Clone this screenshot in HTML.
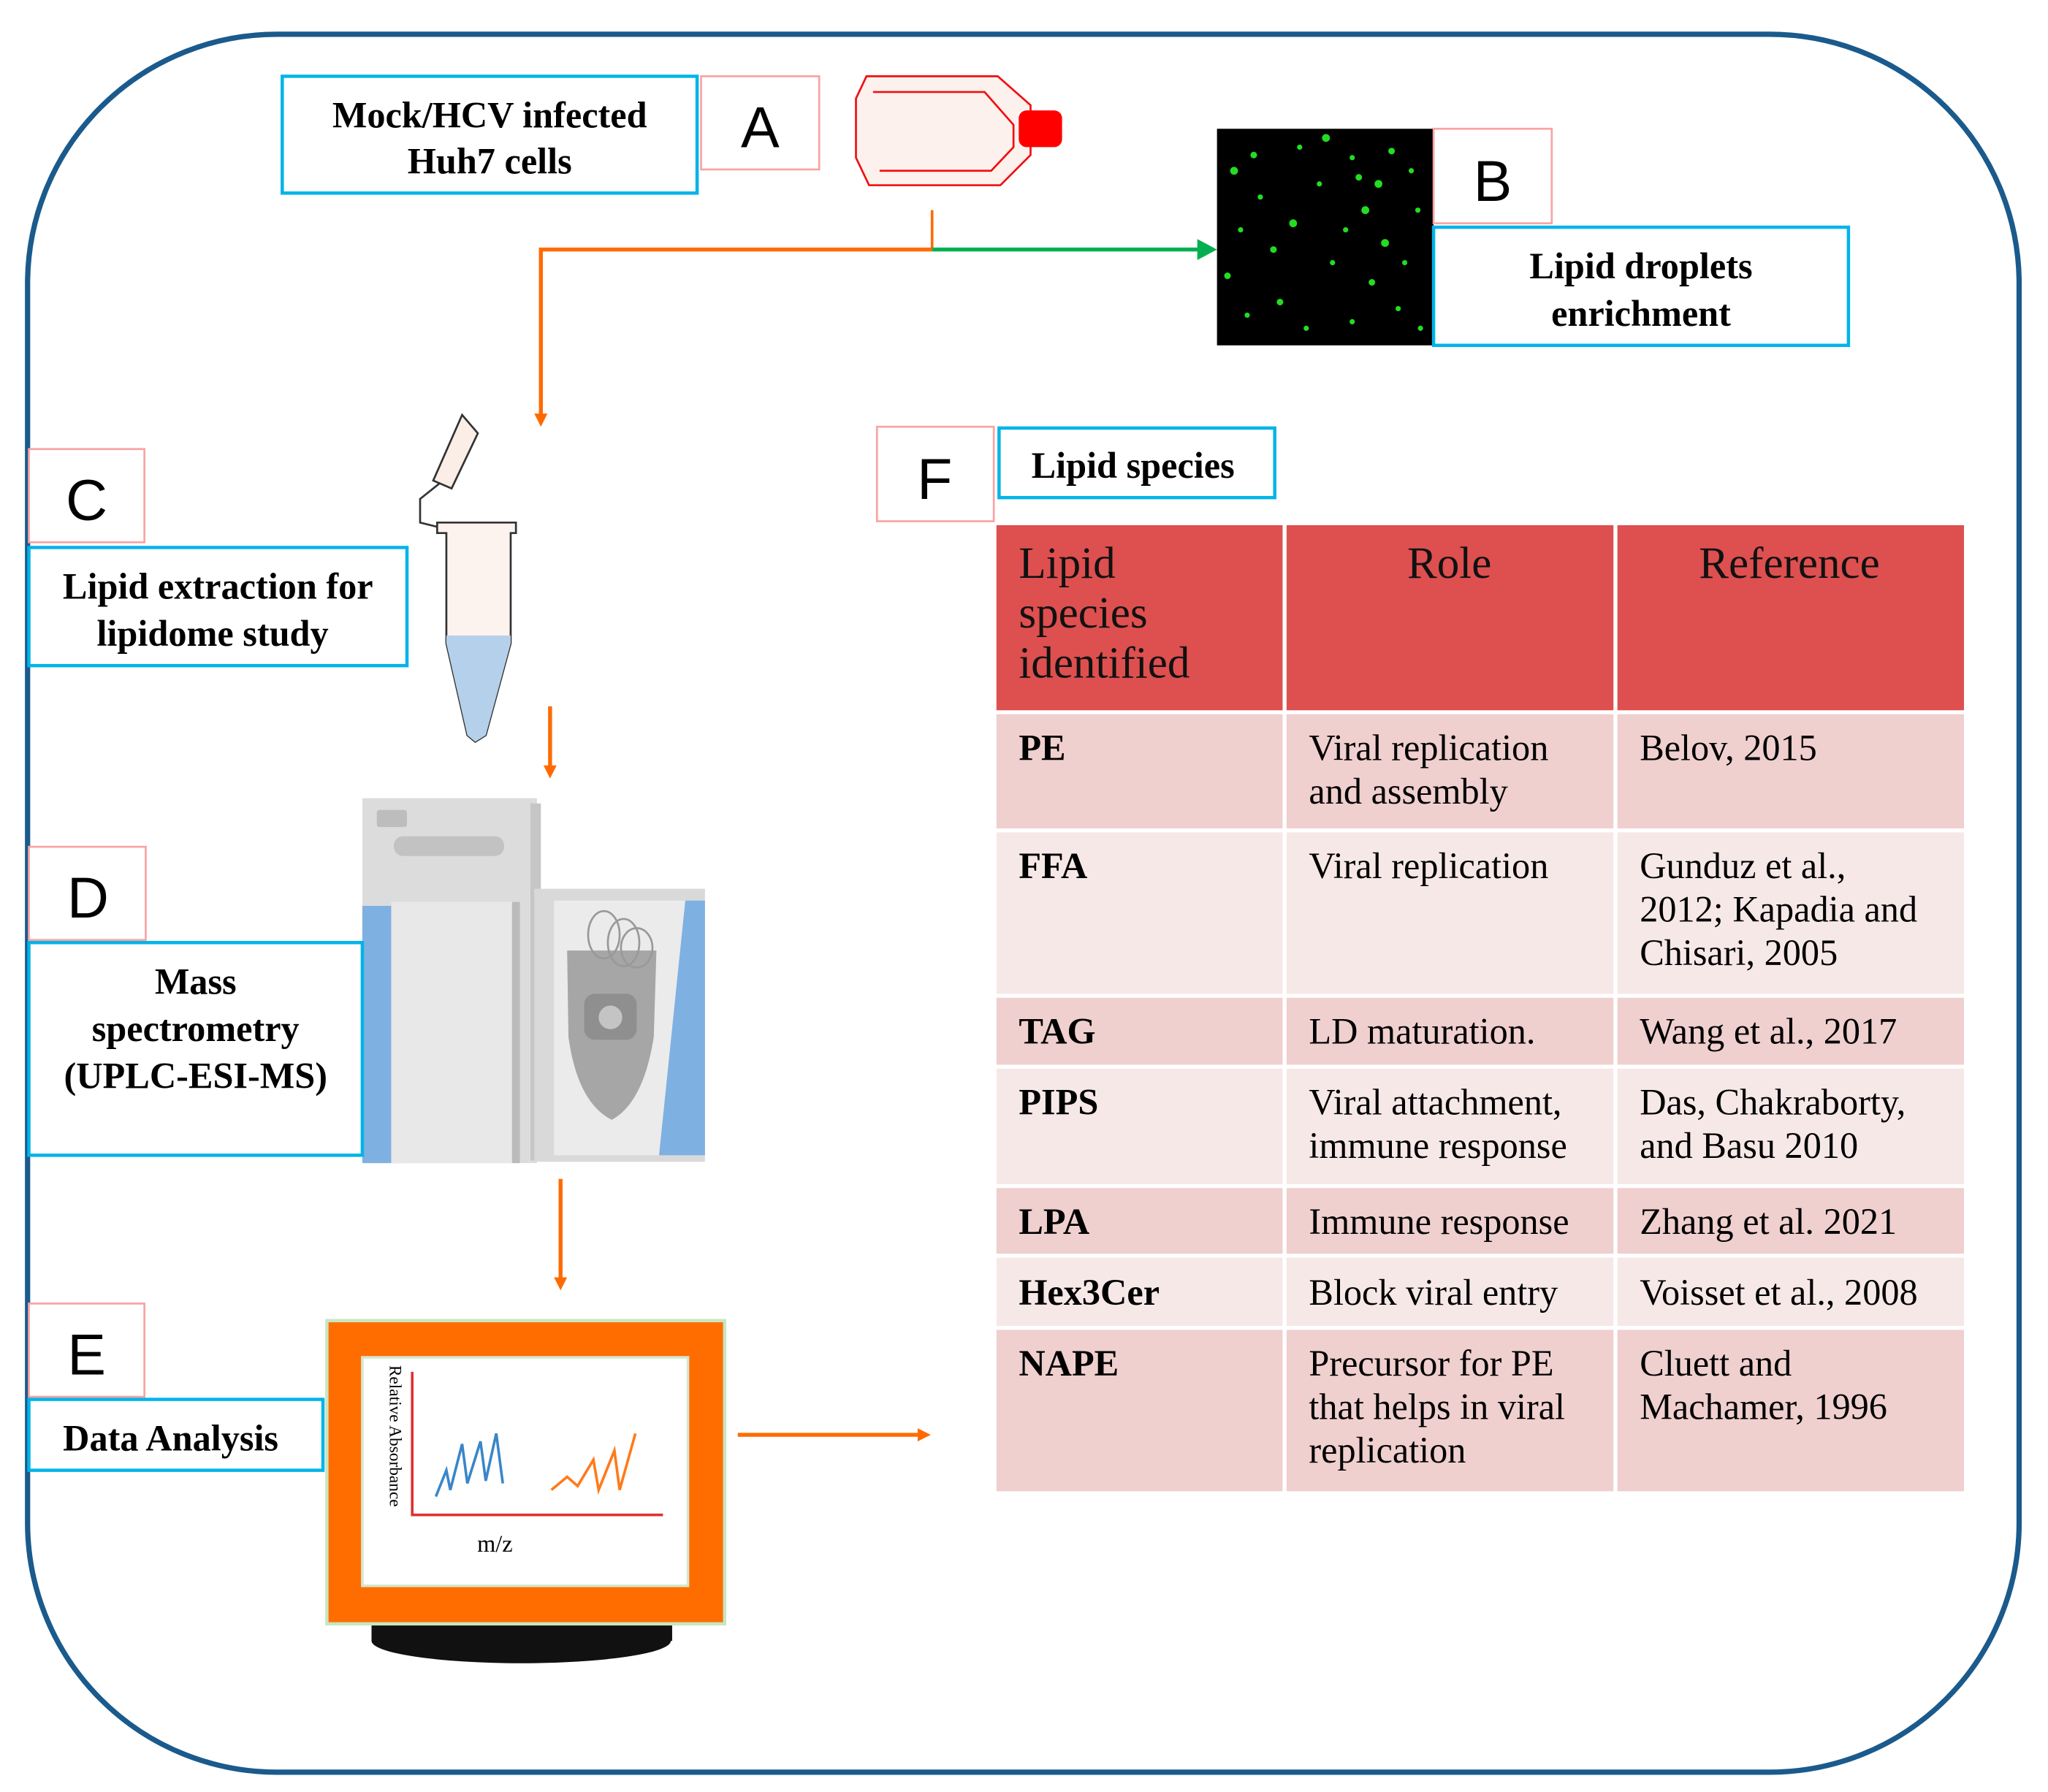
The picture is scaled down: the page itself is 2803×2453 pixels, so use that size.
<!DOCTYPE html>
<html><head><meta charset="utf-8"><style>
html,body{margin:0;padding:0;background:#fff}
svg{display:block}
.t{font-family:"Liberation Serif",serif;fill:#000}
.b{font-weight:bold}
.L{font-family:"Liberation Sans",sans-serif;font-size:44px;fill:#000}
</style></head><body>
<svg width="2803" height="2453" viewBox="0 0 1560 1365" xmlns="http://www.w3.org/2000/svg">
<defs>
<marker id="ao" markerWidth="10" markerHeight="10" refX="5" refY="5" orient="auto" markerUnits="userSpaceOnUse" viewBox="0 0 10 10"><path d="M0,0 L10,5 L0,10 z" fill="#ff6a00"/></marker>
</defs>
<rect x="0" y="0" width="1560" height="1365" fill="#fff"/>
<rect x="21" y="26" width="1517" height="1324" rx="190" ry="190" fill="none" stroke="#1a5a8c" stroke-width="4"/>

<!-- A -->
<rect x="215" y="58" width="316" height="89" fill="#fff" stroke="#00b4e8" stroke-width="2.5"/>
<text class="t b" x="373" y="97" font-size="28" text-anchor="middle">Mock/HCV infected</text>
<text class="t b" x="373" y="132" font-size="28" text-anchor="middle">Huh7 cells</text>
<rect x="534" y="58" width="90" height="71" fill="#fff" stroke="#f9a3a3" stroke-width="1.5"/>
<text class="L" x="579" y="112" text-anchor="middle">A</text>
<!-- flask -->
<g stroke="#f01010" stroke-width="1.5" fill="#fdf1ee">
<path d="M660,58 L760,58 L785,80 L785,118 L762,141 L662,141 L652,120 L652,75 Z"/>
<path d="M665,70 L750,70 L772,95 L772,112 L755,130 L670,130"/>
</g>
<rect x="776" y="84" width="33" height="28" rx="6" fill="#ff0000"/>

<!-- connectors -->
<path d="M710,160 L710,190" stroke="#ff6a00" stroke-width="2" fill="none"/>
<path d="M710,190 L412,190 L412,320" stroke="#ff6a00" stroke-width="3" fill="none" marker-end="url(#ao)"/>
<path d="M710,190 L914,190" stroke="#00b050" stroke-width="3" fill="none"/>
<path d="M912,182 L927,190 L912,198 z" fill="#00b050"/>

<!-- B image -->
<rect x="927" y="98" width="165" height="165" fill="#000"/>
<g fill="#22dd22">
<circle cx="940" cy="130" r="3"/><circle cx="955" cy="118" r="2.5"/><circle cx="990" cy="112" r="2"/><circle cx="1010" cy="105" r="3"/><circle cx="1030" cy="120" r="2"/><circle cx="1050" cy="140" r="3"/><circle cx="1060" cy="115" r="2.5"/><circle cx="1075" cy="130" r="2"/><circle cx="1040" cy="160" r="3"/><circle cx="1025" cy="175" r="2"/><circle cx="1055" cy="185" r="3"/><circle cx="1070" cy="200" r="2"/><circle cx="1045" cy="215" r="2.5"/><circle cx="1065" cy="235" r="2"/><circle cx="985" cy="170" r="3"/><circle cx="970" cy="190" r="2.5"/><circle cx="960" cy="150" r="2"/><circle cx="945" cy="175" r="2"/><circle cx="935" cy="210" r="2.5"/><circle cx="975" cy="230" r="2.5"/><circle cx="995" cy="250" r="2"/><circle cx="1030" cy="245" r="2"/><circle cx="1080" cy="160" r="2"/><circle cx="1005" cy="140" r="2"/><circle cx="1015" cy="200" r="2"/><circle cx="1035" cy="135" r="2.5"/><circle cx="950" cy="240" r="2"/><circle cx="1082" cy="250" r="2"/>
</g>
<rect x="1092" y="98" width="90" height="72" fill="#fff" stroke="#f9a3a3" stroke-width="1.5"/>
<text class="L" x="1137" y="153" text-anchor="middle">B</text>
<rect x="1092" y="173" width="316" height="90" fill="#fff" stroke="#00b4e8" stroke-width="2.5"/>
<text class="t b" x="1250" y="212" font-size="28" text-anchor="middle">Lipid droplets</text>
<text class="t b" x="1250" y="248" font-size="28" text-anchor="middle">enrichment</text>

<!-- C -->
<rect x="22" y="342" width="88" height="71" fill="#fff" stroke="#f9a3a3" stroke-width="1.5"/>
<text class="L" x="66" y="396" text-anchor="middle">C</text>
<rect x="22" y="417" width="288" height="90" fill="#fff" stroke="#00b4e8" stroke-width="2.5"/>
<text class="t b" x="166" y="456" font-size="28" text-anchor="middle">Lipid extraction for</text>
<text class="t b" x="162" y="492" font-size="28" text-anchor="middle">lipidome study</text>
<!-- tube -->
<g stroke="#333" stroke-width="1.5">
<path d="M352,316 L364,330 L344,372 L330,366 Z" fill="#fbeee6"/>
<path d="M335,368 L320,380 L320,398 L336,402" fill="none"/>
<path d="M333,398 L393,398 L393,406 L389,406 L389,490 L370,560 L362,565 L356,560 L340,490 L340,406 L333,406 Z" fill="#fdf3ee"/>
<path d="M340,484 L389,484 L389,490 L370,560 L362,565 L356,560 L340,490 Z" fill="#b5d0ea" stroke="none"/>
</g>
<path d="M419,538 L419,588" stroke="#ff6a00" stroke-width="3" marker-end="url(#ao)"/>

<!-- D machine -->
<rect x="276" y="608" width="133" height="278" fill="#dcdcdc"/>
<rect x="404" y="612" width="8" height="272" fill="#c6c6c6"/>
<rect x="287" y="617" width="23" height="13" rx="2" fill="#bdbdbd"/>
<rect x="300" y="637" width="84" height="15" rx="7" fill="#c2c2c2"/>
<path d="M276,690 L300,690 L310,886 L276,886 Z" fill="#7fb0e2"/>
<rect x="298" y="687" width="95" height="199" fill="#e8e8e8"/>
<rect x="390" y="687" width="6" height="199" fill="#bbb"/>
<rect x="407" y="677" width="130" height="208" fill="#d9d9d9"/>
<rect x="422" y="686" width="115" height="194" fill="#ebebeb"/>
<path d="M522,686 L537,686 L537,880 L502,880 Z" fill="#7fb0e2"/>
<path d="M432,724 L500,724 L498,790 Q490,840 466,853 Q440,840 433,790 Z" fill="#a6a6a6"/>
<rect x="445" y="757" width="40" height="35" rx="8" fill="#8f8f8f"/>
<circle cx="465" cy="775" r="9" fill="#c4c4c4"/>
<g fill="none" stroke="#999" stroke-width="1.5"><ellipse cx="460" cy="712" rx="12" ry="18"/><ellipse cx="475" cy="718" rx="12" ry="18"/><ellipse cx="485" cy="722" rx="12" ry="15"/></g>
<rect x="22" y="645" width="89" height="71" fill="#fff" stroke="#f9a3a3" stroke-width="1.5"/>
<text class="L" x="67" y="699" text-anchor="middle">D</text>
<rect x="22" y="718" width="254" height="162" fill="#fff" stroke="#00b4e8" stroke-width="2.5"/>
<text class="t b" x="149" y="757" font-size="28" text-anchor="middle">Mass</text>
<text class="t b" x="149" y="793" font-size="28" text-anchor="middle">spectrometry</text>
<text class="t b" x="149" y="829" font-size="28" text-anchor="middle">(UPLC-ESI-MS)</text>
<path d="M427,898 L427,978" stroke="#ff6a00" stroke-width="3" marker-end="url(#ao)"/>

<!-- E monitor -->
<rect x="22" y="993" width="88" height="71" fill="#fff" stroke="#f9a3a3" stroke-width="1.5"/>
<text class="L" x="66" y="1047" text-anchor="middle">E</text>
<rect x="22" y="1066" width="224" height="54" fill="#fff" stroke="#00b4e8" stroke-width="2.5"/>
<text class="t b" x="130" y="1105" font-size="28" text-anchor="middle">Data Analysis</text>
<ellipse cx="397" cy="1250" rx="114" ry="17" fill="#111"/>
<rect x="283" y="1234" width="229" height="16" fill="#111"/>
<rect x="249" y="1006" width="303" height="231" fill="#ff6d00" stroke="#c8e6c0" stroke-width="2.5"/>
<rect x="276" y="1034" width="248" height="174" fill="#fff" stroke="#d5e8cf" stroke-width="2"/>
<path d="M314,1045 L314,1154 L505,1154" fill="none" stroke="#e03030" stroke-width="2"/>
<text class="t" x="0" y="0" font-size="13" transform="translate(297,1040) rotate(90)">Relative Absorbance</text>
<text class="t" x="377" y="1182" font-size="18" text-anchor="middle">m/z</text>
<path d="M332,1140 L340,1120 L343,1135 L352,1100 L356,1130 L366,1098 L370,1128 L378,1092 L383,1130" fill="none" stroke="#3a86c8" stroke-width="2"/>
<path d="M420,1135 L432,1125 L440,1132 L452,1112 L456,1135 L468,1105 L472,1135 L484,1092" fill="none" stroke="#ff7a1a" stroke-width="2"/>
<path d="M562,1093 L704,1093" stroke="#ff6a00" stroke-width="3" marker-end="url(#ao)"/>

<!-- F -->
<rect x="668" y="325" width="89" height="72" fill="#fff" stroke="#f9a3a3" stroke-width="1.5"/>
<text class="L" x="712" y="380" text-anchor="middle">F</text>
<rect x="761" y="326" width="210" height="53" fill="#fff" stroke="#00b4e8" stroke-width="2.5"/>
<text class="t b" x="863" y="364" font-size="28" text-anchor="middle">Lipid species</text>

<!-- table -->
<g>
<rect x="759" y="400" width="218" height="141" fill="#de4f4f"/>
<rect x="980" y="400" width="249" height="141" fill="#de4f4f"/>
<rect x="1232" y="400" width="264" height="141" fill="#de4f4f"/>
<g fill="#efd0cf">
<rect x="759" y="544" width="218" height="87"/><rect x="980" y="544" width="249" height="87"/><rect x="1232" y="544" width="264" height="87"/>
<rect x="759" y="760" width="218" height="51"/><rect x="980" y="760" width="249" height="51"/><rect x="1232" y="760" width="264" height="51"/>
<rect x="759" y="905" width="218" height="50"/><rect x="980" y="905" width="249" height="50"/><rect x="1232" y="905" width="264" height="50"/>
<rect x="759" y="1013" width="218" height="123"/><rect x="980" y="1013" width="249" height="123"/><rect x="1232" y="1013" width="264" height="123"/>
</g>
<g fill="#f7e8e8">
<rect x="759" y="634" width="218" height="123"/><rect x="980" y="634" width="249" height="123"/><rect x="1232" y="634" width="264" height="123"/>
<rect x="759" y="814" width="218" height="88"/><rect x="980" y="814" width="249" height="88"/><rect x="1232" y="814" width="264" height="88"/>
<rect x="759" y="958" width="218" height="52"/><rect x="980" y="958" width="249" height="52"/><rect x="1232" y="958" width="264" height="52"/>
</g>
</g>
<g class="t" font-size="34" style="fill:#111">
<text x="776" y="440">Lipid</text><text x="776" y="478">species</text><text x="776" y="516">identified</text>
<text x="1104" y="440" text-anchor="middle">Role</text>
<text x="1363" y="440" text-anchor="middle">Reference</text>
</g>
<g class="t b" font-size="28">
<text x="776" y="579">PE</text><text x="776" y="669">FFA</text><text x="776" y="795">TAG</text><text x="776" y="849">PIPS</text><text x="776" y="940">LPA</text><text x="776" y="994">Hex3Cer</text><text x="776" y="1048">NAPE</text>
</g>
<g class="t" font-size="28">
<text x="997" y="579">Viral replication</text><text x="997" y="612">and assembly</text>
<text x="997" y="669">Viral replication</text>
<text x="997" y="795">LD maturation.</text>
<text x="997" y="849">Viral attachment,</text><text x="997" y="882">immune response</text>
<text x="997" y="940">Immune response</text>
<text x="997" y="994">Block viral entry</text>
<text x="997" y="1048">Precursor for PE</text><text x="997" y="1081">that helps in viral</text><text x="997" y="1114">replication</text>
<text x="1249" y="579">Belov, 2015</text>
<text x="1249" y="669">Gunduz et al.,</text><text x="1249" y="702">2012; Kapadia and</text><text x="1249" y="735">Chisari, 2005</text>
<text x="1249" y="795">Wang et al., 2017</text>
<text x="1249" y="849">Das, Chakraborty,</text><text x="1249" y="882">and Basu 2010</text>
<text x="1249" y="940">Zhang et al. 2021</text>
<text x="1249" y="994">Voisset et al., 2008</text>
<text x="1249" y="1048">Cluett and</text><text x="1249" y="1081">Machamer, 1996</text>
</g>
</svg>
</body></html>
